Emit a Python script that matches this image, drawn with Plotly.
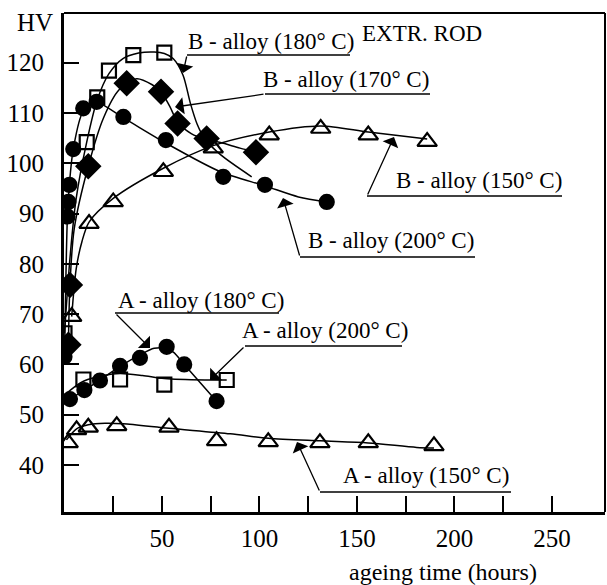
import plotly.graph_objects as go

# ---------------- data ----------------
# measured points: ageing time (h) and hardness HV
b180_t = [0, 11.4, 16.8, 22.8, 35.3, 51.2]
b180_hv = [66.2, 104.2, 113.1, 118.4, 121.5, 122.0]
b170_t = [2.0, 2.8, 12.2, 31.9, 49.5, 58.0, 72.9, 98.2]
b170_hv = [63.9, 75.8, 99.4, 115.9, 114.2, 107.9, 104.9, 102.2]
b200_t = [0, 1.5, 2.0, 2.5, 4.5, 9.6, 16.5, 30.2, 52.0, 81.4, 102.8, 134.5]
b200_hv = [61.5, 89.4, 92.3, 95.7, 102.8, 110.9, 112.2, 109.2, 104.6, 97.3, 95.7, 92.3]
b150_t = [3.7, 12.6, 25.0, 50.7, 76.3, 105.0, 131.4, 155.8, 186.0]
b150_hv = [69.5, 88.0, 92.3, 98.3, 103.0, 105.6, 106.9, 105.6, 104.3]
a180_t = [2.8, 10.2, 18.2, 28.5, 38.7, 52.4, 61.4, 78.0]
a180_hv = [53.1, 54.9, 56.8, 59.7, 61.3, 63.5, 60.0, 52.7]
a200_t = [9.7, 28.5, 51.2, 83.2]
a200_hv = [57.0, 57.0, 56.0, 56.9]
a150_t = [1.9, 6.2, 12.2, 26.8, 53.6, 78.0, 104.5, 131.0, 155.8, 189.5]
a150_hv = [44.4, 47.0, 47.5, 47.8, 47.5, 44.8, 44.6, 44.4, 44.4, 43.8]

# fitted curves as drawn in the picture
b180_fit_t = [0, 3, 6, 11.4, 16.8, 22.8, 30, 38, 46, 51.2, 55.7, 60.8, 64.5, 68, 72, 80, 96]
b180_fit_hv = [66.2, 82, 93, 104.2, 112.6, 117.8, 120.8, 121.9, 122.1, 121.8, 120.8, 117.5, 112, 107.8, 104.8, 101.7, 97.3]
b170_fit_t = [2.0, 2.8, 5, 12.2, 20, 28, 37, 45, 49.5, 54, 58, 65, 72.9, 80, 90, 98.2]
b170_fit_hv = [63.9, 75.8, 87, 99.4, 109, 114.6, 116.8, 115.6, 114.2, 111.3, 108.2, 105.9, 104.7, 104.1, 103.0, 102.2]
b200_fit_t = [0, 1.5, 2.5, 4.5, 9.6, 16.5, 30.2, 52, 80, 102.8, 120, 134.5]
b200_fit_hv = [61.5, 89.4, 95.7, 102.8, 110.3, 112.0, 109.0, 104.0, 98.3, 95.5, 93.3, 92.3]
b150_fit_t = [3.7, 6, 9, 12.6, 25, 50.7, 76.3, 105, 131.4, 155.8, 186]
b150_fit_hv = [69.5, 79, 84.5, 88.3, 93.0, 99.0, 103.5, 106.2, 107.4, 106.2, 104.8]
a180_fit_t = [2.8, 10.2, 18.2, 28.5, 38.7, 46, 52, 56, 61.4, 78.0]
a180_fit_hv = [53.1, 54.9, 56.9, 59.6, 61.9, 63.2, 63.2, 62.4, 60.0, 52.7]
a200_fit_t = [0, 5, 10, 20, 28.5, 40, 51.2, 72, 83.2]
a200_fit_hv = [53.9, 55.5, 56.7, 57.8, 58.2, 57.8, 57.2, 56.9, 56.9]
a150_fit_t = [1.0, 6.2, 12.2, 20.8, 30, 53.6, 85, 104.5, 131, 155.8, 180.6, 189.5]
a150_fit_hv = [45.0, 47.2, 48.0, 48.3, 48.2, 47.3, 46.2, 45.3, 44.8, 44.4, 43.5, 43.4]

x_tick_vals = [25, 50, 75, 100, 125, 150, 175, 200, 225, 250]
x_tick_text = ["", "50", "", "100", "", "150", "", "200", "", "250"]
y_tick_vals = [40, 50, 60, 70, 80, 90, 100, 110, 120]

# ---------------- figure ----------------
W, H = 607, 585
ML, MR, MT, MB = 64, 2, 13, 73
PW, PH = W - ML - MR, H - MT - MB
FONT = "Liberation Serif, Times New Roman, serif"


def px(xp):
    return (xp - ML) / PW


def py(yp):
    return (MT + PH - yp) / PH


fig = go.Figure()

curves = [
    (b180_fit_t, b180_fit_hv), (b170_fit_t, b170_fit_hv), (b200_fit_t, b200_fit_hv),
    (b150_fit_t, b150_fit_hv), (a180_fit_t, a180_fit_hv), (a200_fit_t, a200_fit_hv),
    (a150_fit_t, a150_fit_hv),
]
for cx, cy in curves:
    fig.add_trace(go.Scatter(x=cx, y=cy, mode="lines",
                             line=dict(color="black", width=1.5, shape="spline", smoothing=0.8),
                             hoverinfo="skip", showlegend=False))

markers = [
    (b150_t, b150_hv, "triangle-up-open", 17),
    (a150_t, a150_hv, "triangle-up-open", 17),
    (b180_t, b180_hv, "square-open", 14),
    (a200_t, a200_hv, "square-open", 14),
    (b200_t, b200_hv, "circle", 14),
    (a180_t, a180_hv, "circle", 14),
    (b170_t, b170_hv, "diamond", 18),
]
for mx, my, sym, sz in markers:
    fig.add_trace(go.Scatter(x=mx, y=my, mode="markers",
                             marker=dict(symbol=sym, size=sz, color="black",
                                         line=dict(color="black", width=2.2)),
                             showlegend=False))

# labels with leader lines (pixel positions of the picture)
labels = [
    # text, text center, underline (x0, x1, y), arrow tail, arrow tip
    ("B - alloy (180° C)", (271, 42), (187, 350, 55), (187, 55), (183, 73)),
    ("B - alloy (170° C)", (346, 79), (265, 430, 94), (265, 94), (175, 107)),
    ("B - alloy (150° C)", (479, 180), (367, 562, 196), (367, 196), (394, 137)),
    ("B - alloy (200° C)", (391, 240), (300, 475, 257), (300, 257), (283, 198)),
    ("A - alloy (180° C)", (201, 300), (115, 279, 313), (115, 313), (150, 348)),
    ("A - alloy (200° C)", (325, 330), (245, 402, 346), (245, 346), (210, 380)),
    ("A - alloy (150° C)", (426, 475), (320, 511, 492), (320, 492), (297, 442)),
]
shapes = []
annotations = []
for text, (tx, ty), (u0, u1, uy), (ax, ay), (hx, hy) in labels:
    annotations.append(dict(text=text, x=px(tx), y=py(ty), xref="paper", yref="paper",
                            xanchor="center", yanchor="middle", showarrow=False,
                            font=dict(family=FONT, size=23, color="black")))
    shapes.append(dict(type="line", xref="paper", yref="paper", x0=px(u0), x1=px(u1),
                       y0=py(uy), y1=py(uy), line=dict(color="black", width=1.5)))
    annotations.append(dict(text="", x=px(hx), y=py(hy), xref="paper", yref="paper",
                            ax=ax - hx, ay=ay - hy, showarrow=True, arrowhead=1,
                            arrowsize=2.2, arrowwidth=1.3, arrowcolor="black", standoff=0))

annotations.append(dict(text="EXTR. ROD", x=px(422), y=py(33), xref="paper", yref="paper",
                        xanchor="center", yanchor="middle", showarrow=False,
                        font=dict(family=FONT, size=23, color="black")))
annotations.append(dict(text="HV", x=px(35), y=py(22), xref="paper", yref="paper",
                        xanchor="center", yanchor="middle", showarrow=False,
                        font=dict(family=FONT, size=25, color="black")))
annotations.append(dict(text="ageing time (hours)", x=px(443), y=py(572), xref="paper",
                        yref="paper", xanchor="center", yanchor="middle", showarrow=False,
                        font=dict(family=FONT, size=24, color="black")))

# top and right frame (thinner than the axes)
shapes.append(dict(type="line", xref="paper", yref="paper", x0=0, x1=1, y0=1, y1=1,
                   line=dict(color="black", width=2)))
shapes.append(dict(type="line", xref="paper", yref="paper", x0=1, x1=1, y0=0, y1=1,
                   line=dict(color="black", width=2)))

fig.update_layout(
    width=W, height=H,
    margin=dict(l=ML, r=MR, t=MT, b=MB),
    paper_bgcolor="white", plot_bgcolor="white",
    font=dict(family=FONT, color="black"),
    shapes=shapes, annotations=annotations,
    xaxis=dict(range=[-0.25, 277.2], tickvals=x_tick_vals, ticktext=x_tick_text,
               ticks="inside", ticklen=16, tickwidth=1.5, tickcolor="black",
               showline=True, linewidth=3, linecolor="black", showgrid=False,
               zeroline=False, tickfont=dict(family=FONT, size=25, color="black"),
               ticklabelstandoff=2),
    yaxis=dict(range=[30.66, 129.86], tickvals=y_tick_vals, ticks="inside", ticklen=15,
               tickwidth=1.5, tickcolor="black", showline=True, linewidth=3,
               linecolor="black", showgrid=False, zeroline=False,
               tickfont=dict(family=FONT, size=25, color="black"), ticklabelstandoff=12),
)

fig.write_html("out.html", config={"displayModeBar": False},
               post_script="document.body.style.margin='0px';"
                           "document.body.style.overflow='hidden';")
